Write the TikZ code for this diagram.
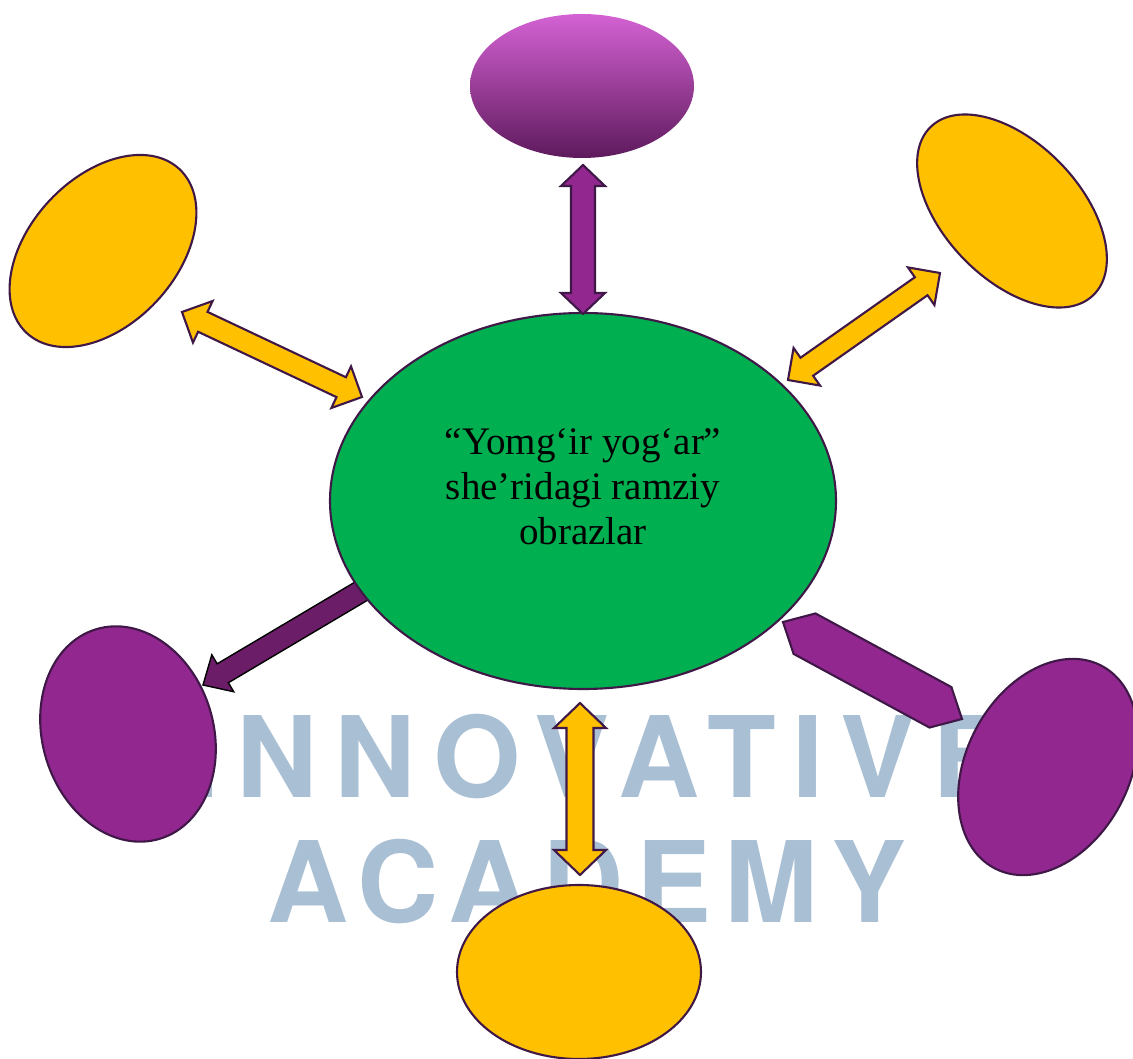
\documentclass[tikz,border=0pt]{standalone}
\usepackage{fontspec}
\setmainfont{Liberation Serif}
\newfontfamily\wmfont{TeX Gyre Heros}
\usetikzlibrary{shapes.geometric, calc}

\definecolor{gold}{HTML}{FFC000}
\definecolor{leaf}{HTML}{00B050}
\definecolor{plum}{HTML}{92278F}
\definecolor{darkplum}{HTML}{6C1D68}
\definecolor{rim}{HTML}{3F1848}
\definecolor{wmblue}{HTML}{A9BFD4}

% block arrow with two heads: style, from, to, half shaft, half head, head length
\newcommand{\dblarrow}[6]{%
  \coordinate (ha) at ($(#2)!#6!(#3)$);
  \coordinate (hb) at ($(#3)!#6!(#2)$);
  \draw[#1] (#2) -- ($(ha)!#5!90:(#3)$) -- ($(ha)!#4!90:(#3)$)
    -- ($(hb)!#4!-90:(#2)$) -- ($(hb)!#5!-90:(#2)$) -- (#3)
    -- ($(hb)!#5!90:(#2)$) -- ($(hb)!#4!90:(#2)$)
    -- ($(ha)!#4!-90:(#3)$) -- ($(ha)!#5!-90:(#3)$) -- cycle;
}
% block arrow with one head at the second point
\newcommand{\sglarrow}[6]{%
  \coordinate (hb) at ($(#3)!#6!(#2)$);
  \draw[#1] ($(#2)!#4!90:(#3)$) -- ($(hb)!#4!-90:(#2)$) -- ($(hb)!#5!-90:(#2)$)
    -- (#3) -- ($(hb)!#5!90:(#2)$) -- ($(hb)!#4!90:(#2)$)
    -- ($(#2)!#4!-90:(#3)$) -- cycle;
}

\begin{document}
\begin{tikzpicture}[x=0.1mm, y=-0.1mm,
        blob/.style={ellipse, draw=rim, line width=0.6pt, inner sep=0pt},
        yblob/.style={blob, fill=gold},
        pblob/.style={blob, fill=plum},
        yarrow/.style={fill=gold, draw=rim, line width=0.6pt},
        parrow/.style={fill=plum, draw=rim, line width=0.6pt},
        darrow/.style={fill=darkplum},
        wm/.style={wmblue, anchor=base, inner sep=0pt, font=\wmfont\bfseries\fontsize{32}{32}\selectfont}]
    \useasboundingbox (0,0) rectangle (1133,1059);

    % watermark
    \node[wm] (wm1) at (598,797) {\addfontfeature{LetterSpace=15}INNOVATIVE};
    \node[wm] (wm2) at (587,922) {\addfontfeature{LetterSpace=11.5}ACADEMY};

    % arrow that runs under the middle
    \coordinate (bl1) at (375,583);
    \coordinate (bl2) at (203,685);
    \sglarrow{darrow}{bl1}{bl2}{1.1mm}{2.15mm}{2.3mm}

    % ellipses
    \node[blob, fill=leaf, minimum width=50.6mm, minimum height=37.6mm] (mid) at (583,501) {};
    \node[ellipse, inner sep=0pt, minimum width=22.4mm, minimum height=14.4mm,
        top color={rgb,255:red,212;green,98;blue,212}, middle color={rgb,255:red,160;green,42;blue,154},
        bottom color={rgb,255:red,94;green,26;blue,92}] (top) at (582,86) {};
    \node[yblob, minimum width=22.4mm, minimum height=14.7mm, rotate=47] (tl) at (103,251) {};
    \node[yblob, minimum width=23.4mm, minimum height=13.6mm, rotate=-46] (tr) at (1012,211) {};
    \node[pblob, minimum width=21.9mm, minimum height=17.1mm, rotate=107] (bl) at (128,734) {};
    \node[pblob, minimum width=22.9mm, minimum height=16.3mm, rotate=62] (br) at (1048,767) {};
    \node[yblob, minimum width=24.4mm, minimum height=17.4mm] (bot) at (579,972) {};

    \node[align=center, font=\fontsize{11.1}{12.8}\selectfont] (title) at (583,487)
        {“Yomg‘ir yog‘ar”\\she’ridagi ramziy\\obrazlar};

    % connectors
    \coordinate (t1) at (583,165);
    \coordinate (t2) at (583,314);
    \dblarrow{parrow}{t1}{t2}{1.2mm}{2.2mm}{2.1mm}
    \coordinate (b1) at (580,703);
    \coordinate (b2) at (580,875);
    \dblarrow{yarrow}{b1}{b2}{1.35mm}{2.6mm}{2.5mm}
    \coordinate (l1) at (182,312);
    \coordinate (l2) at (362,397);
    \dblarrow{yarrow}{l1}{l2}{1.1mm}{2.3mm}{2.3mm}
    \coordinate (r1) at (788,380);
    \coordinate (r2) at (940,273);
    \dblarrow{yarrow}{r1}{r2}{1.1mm}{2.3mm}{2.3mm}
    \coordinate (h1) at (783,622);
    \coordinate (h2) at (962,719);
    \dblarrow{parrow}{h1}{h2}{2.3mm}{2.3mm}{2.45mm}

\end{tikzpicture}
\end{document}
